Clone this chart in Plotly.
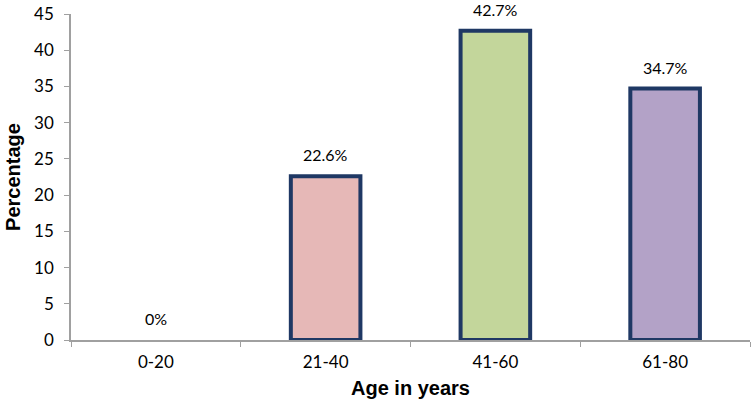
import plotly.graph_objects as go

ages = ["0-20", "21-40", "41-60", "61-80"]
percent = [0, 22.6, 42.7, 34.7]
labels = ["0%", "22.6%", "42.7%", "34.7%"]
bar_colors = ["#e6b8b7", "#e6b8b7", "#c3d69b", "#b3a2c7"]
outline_widths = [0, 4, 4, 4]

fig = go.Figure(go.Bar(
    x=ages, y=percent,
    marker=dict(color=bar_colors, line=dict(color="#1f3864", width=outline_widths)),
    width=0.41,
))

for a, v, t in zip(ages, percent, labels):
    fig.add_annotation(x=a, y=v, text=t, showarrow=False, yanchor="bottom",
                       yshift=10, font=dict(size=16, color="#000"))

axis_font = dict(family="Lato, Open Sans, sans-serif", size=17, color="#000")
title_font = dict(family="Liberation Sans, Arial", size=20, color="#000", weight="bold")
fig.update_layout(
    width=751, height=404,
    margin=dict(l=71, r=1, t=14, b=64),
    plot_bgcolor="white", paper_bgcolor="white",
    font=dict(family="Lato, Open Sans, sans-serif"),
    showlegend=False,
    xaxis=dict(
        title=dict(text="Age in years", font=title_font, standoff=10),
        tickfont=axis_font, showline=True, linecolor="#a0a0a0", linewidth=1.5,
        ticks="outside", tickson="boundaries", ticklen=5, tickcolor="#a0a0a0",
        ticklabelstandoff=6, automargin=False,
    ),
    yaxis=dict(
        title=dict(text="Percentage", font=title_font, standoff=8),
        range=[0, 45], dtick=5, tickfont=axis_font, showgrid=False, zeroline=False,
        showline=True, linecolor="#a0a0a0", linewidth=1.5,
        ticks="outside", ticklen=5, tickcolor="#a0a0a0",
        ticklabelstandoff=7, automargin=False,
    ),
)

fig.write_html("out.html", config={"displayModeBar": False},
               post_script="document.body.style.margin='0';")
